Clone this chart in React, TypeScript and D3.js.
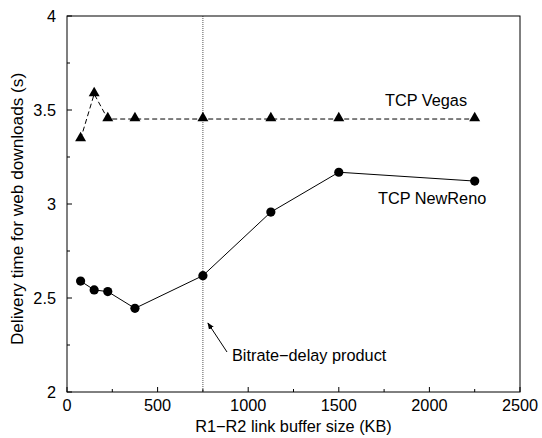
import React from "react";
import * as d3 from "d3";

// buffer sizes (KB)
const bufferSizes = [75, 150, 225, 375, 750, 1125, 1500, 2250];
const vegasTimes = [3.345, 3.585, 3.452, 3.452, 3.452, 3.452, 3.452, 3.452];
const newRenoTimes = [2.59, 2.543, 2.534, 2.445, 2.619, 2.957, 3.169, 3.122];
const bdpValue = 750;

const xTicks = [0, 500, 1000, 1500, 2000, 2500];
const xMinor = [250, 750, 1250, 1750, 2250];
const yTicks = [2, 2.5, 3, 3.5, 4];
const yMinor = [2.25, 2.75, 3.25, 3.75];

const W = 542;
const H = 438;
const margin = { top: 16, right: 22, bottom: 46, left: 67 };
const FONT = "'Liberation Sans', Arial, Helvetica, sans-serif";
const FS = 16.3;

export default function App() {
  const x = d3
    .scaleLinear()
    .domain([0, 2500])
    .range([margin.left, W - margin.right]);
  const y = d3
    .scaleLinear()
    .domain([2, 4])
    .range([H - margin.bottom, margin.top]);

  const lineGen = d3
    .line<[number, number]>()
    .x((d) => x(d[0]))
    .y((d) => y(d[1]));

  const vegas: [number, number][] = bufferSizes.map((b, i) => [b, vegasTimes[i]]);
  const reno: [number, number][] = bufferSizes.map((b, i) => [b, newRenoTimes[i]]);
  const tri = d3.symbol().type(d3.symbolTriangle).size(52)();

  const x0 = x(0);
  const x1 = x(2500);
  const y0 = y(2);
  const y1 = y(4);
  const bx = x(bdpValue);

  return (
    <div style={{ position: "absolute", left: 0, top: 0 }}>
      <svg width={W} height={H} style={{ display: "block", background: "#fff" }} fontFamily={FONT}>
        <defs>
          <marker id="ah" viewBox="0 0 10 10" refX="9" refY="5" markerWidth="7" markerHeight="7" orient="auto">
            <path d="M0,1 L10,5 L0,9 Z" fill="#000" />
          </marker>
        </defs>

        {/* bitrate-delay product line */}
        <line x1={bx} x2={bx} y1={y1} y2={y0} stroke="#555" strokeWidth={1} strokeDasharray="1,1" />

        {/* frame */}
        <rect x={x0} y={y1} width={x1 - x0} height={y0 - y1} fill="none" stroke="#000" strokeWidth={1} />

        {/* x ticks */}
        {xTicks.map((t) => (
          <g key={"xt" + t}>
            <line x1={x(t)} x2={x(t)} y1={y0} y2={y0 - 5} stroke="#000" />
            <text x={x(t)} y={y0 + 19} textAnchor="middle" fontSize={FS}>
              {t}
            </text>
          </g>
        ))}
        {xMinor.map((t) => (
          <line key={"xm" + t} x1={x(t)} x2={x(t)} y1={y0} y2={y0 - 3} stroke="#000" />
        ))}

        {/* y ticks */}
        {yTicks.map((t) => (
          <g key={"yt" + t}>
            <line x1={x0} x2={x0 + 5} y1={y(t)} y2={y(t)} stroke="#000" />
            <text x={x0 - 11} y={y(t)} dy="0.35em" textAnchor="end" fontSize={FS}>
              {t}
            </text>
          </g>
        ))}
        {yMinor.map((t) => (
          <line key={"ym" + t} x1={x0} x2={x0 + 3} y1={y(t)} y2={y(t)} stroke="#000" />
        ))}

        {/* axis titles */}
        <text x={(x0 + x1) / 2} y={432} textAnchor="middle" fontSize={FS}>
          R1−R2 link buffer size (KB)
        </text>
        <text
          transform={`translate(23,209) rotate(-90)`}
          textAnchor="middle"
          fontSize={17.2}
        >
          Delivery time for web downloads (s)
        </text>

        {/* TCP Vegas */}
        <path d={lineGen(vegas) || ""} fill="none" stroke="#000" strokeWidth={1} strokeDasharray="5,3" />
        {vegas.map((d, i) => (
          <path key={"v" + i} d={tri || ""} transform={`translate(${x(d[0])},${y(d[1]) - 1})`} fill="#000" />
        ))}

        {/* TCP NewReno */}
        <path d={lineGen(reno) || ""} fill="none" stroke="#000" strokeWidth={1} />
        {reno.map((d, i) => (
          <circle key={"r" + i} cx={x(d[0])} cy={y(d[1])} r={4.6} fill="#000" />
        ))}

        {/* labels */}
        <text x={385} y={106} fontSize={FS}>
          TCP Vegas
        </text>
        <text x={378} y={204} fontSize={FS}>
          TCP NewReno
        </text>
        <line x1={227} y1={352} x2={bx + 5} y2={323} stroke="#000" strokeWidth={1} markerEnd="url(#ah)" />
        <text x={232} y={361} fontSize={FS}>
          Bitrate−delay product
        </text>
      </svg>
    </div>
  );
}
